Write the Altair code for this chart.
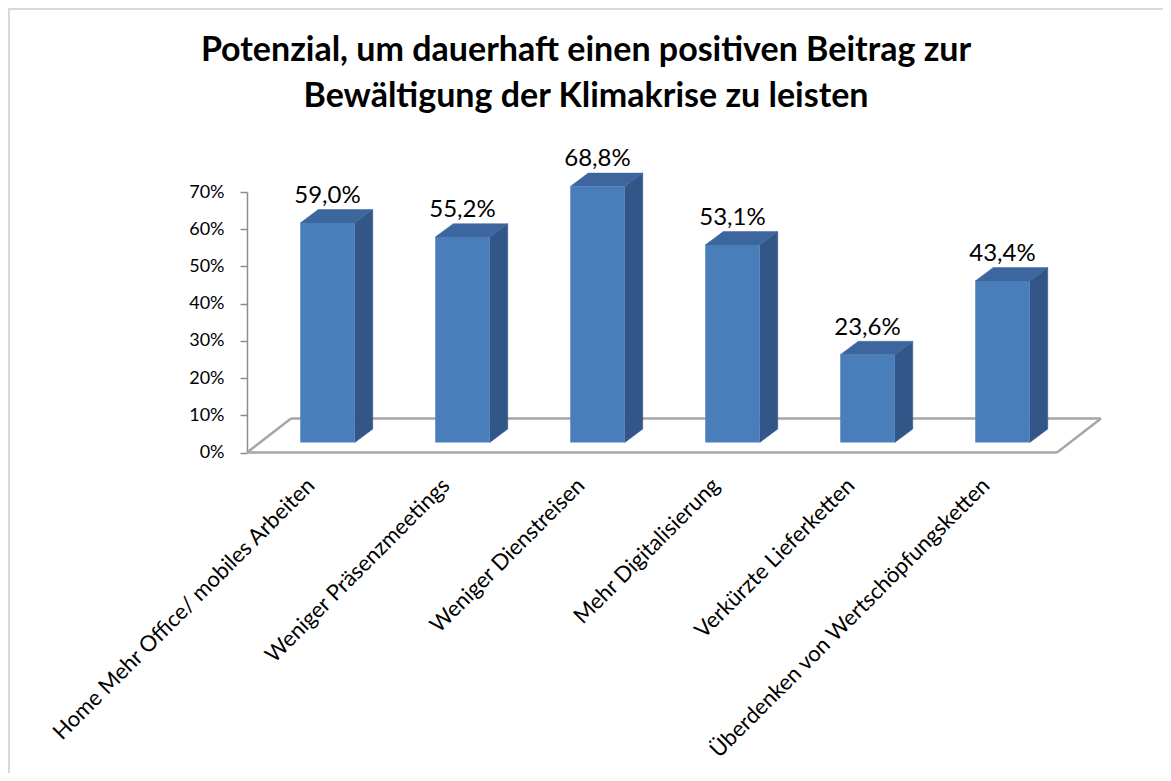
import altair as alt
import pandas as pd

# ---- data ----
categories = [
    "Home Mehr Office/ mobiles Arbeiten",
    "Weniger Präsenzmeetings",
    "Weniger Dienstreisen",
    "Mehr Digitalisierung",
    "Verkürzte Lieferketten",
    "Überdenken von Wertschöpfungsketten",
]
values = [59.0, 55.2, 68.8, 53.1, 23.6, 43.4]
y_ticks = [0, 10, 20, 30, 40, 50, 60, 70]
title_lines = [
    "Potenzial, um dauerhaft einen positiven Beitrag zur",
    "Bewältigung der Klimakrise zu leisten",
]

# ---- style constants (pixels) ----
W, H = 810, 260.5            # plot area
N = len(categories)
PX_X = W / N                 # px per category step
PX_Y = H / 70.0              # px per percent
HALF_W = 27.25 / PX_X        # half bar width, in steps
DEPTH_X = 18 / PX_X          # bar depth (side face), in steps
DEPTH_Y = 13.4 / PX_Y        # bar depth (side face), in percent
SHIFT_X = 13 / PX_X          # bars sit a bit behind the floor front edge
SHIFT_Y = 10 / PX_Y
FLOOR_DX, FLOOR_DY = 44, -34

FRONT = "#4a7ebb"
SIDE = "#325688"
TOP = "#3c669d"
GRID = "#a6a6a6"
FONT = "Lato"

# ---- derived tables ----
centers = [i + 0.5 for i in range(N)]
bars = pd.DataFrame({
    "cat": categories,
    "v": values,
    "c": centers,
})
bars["fx"] = bars["c"] + SHIFT_X
bars["x0"] = bars["fx"] - HALF_W
bars["x1"] = bars["fx"] + HALF_W
bars["base"] = SHIFT_Y
bars["top"] = bars["v"] + SHIFT_Y
bars["label"] = [f"{v:.1f}".replace(".", ",") + "%" for v in values]

# polygons (corner order) for side and top faces
side_rows, top_rows = [], []
for cat, v, c in zip(categories, values, centers):
    x0, x1 = c + SHIFT_X - HALF_W, c + SHIFT_X + HALF_W
    b, t = SHIFT_Y, v + SHIFT_Y
    for k, (px, py) in enumerate([(x1, b), (x1 + DEPTH_X, b + DEPTH_Y),
                                   (x1 + DEPTH_X, t + DEPTH_Y), (x1, t), (x1, b)]):
        side_rows.append({"cat": cat, "k": k, "px": px, "py": py})
    for k, (px, py) in enumerate([(x0, t), (x1, t), (x1 + DEPTH_X, t + DEPTH_Y),
                                   (x0 + DEPTH_X, t + DEPTH_Y), (x0, t)]):
        top_rows.append({"cat": cat, "k": k, "px": px, "py": py})
side = pd.DataFrame(side_rows)
top = pd.DataFrame(top_rows)

floor = pd.DataFrame({"x0": [0.0], "x1": [float(N)], "z": [0.0]})

xscale = alt.Scale(domain=[0, N], nice=False, zero=False)
yscale = alt.Scale(domain=[0, 70], nice=False)

label_array = "[" + ",".join("'" + c + "'" for c in categories) + "]"

x_axis = alt.Axis(
    values=centers,
    labelExpr=label_array + "[floor(datum.value)]",
    labelAngle=-45, labelAlign="right", labelBaseline="middle",
    labelFont=FONT, labelFontSize=22, labelColor="#000000",
    labelPadding=29, labelOffset=-4, labelLimit=600,
    domain=False, ticks=False, grid=False, title=None, labelOverlap=False,
    labelBound=False, labelFlush=False,
)
y_axis = alt.Axis(
    values=y_ticks, labelExpr="datum.value + '%'",
    labelFont=FONT, labelFontSize=18, labelColor="#000000", labelPadding=16,
    labelOverlap=False,
    domainColor="#8c8c8c", domainWidth=1.5, tickColor="#8c8c8c", tickWidth=1.5,
    tickSize=7, grid=False, title=None,
)


def X(f):
    return alt.X(f, scale=xscale, axis=x_axis)


def Y(f):
    return alt.Y(f, scale=yscale, axis=y_axis, stack=None)


base_floor = alt.Chart(floor)
floor_front = base_floor.mark_rule(color=GRID, strokeWidth=2.5).encode(
    x=X("x0:Q"), x2="x1:Q", y=Y("z:Q"),
)
floor_back = base_floor.mark_rule(
    color=GRID, strokeWidth=2.5, xOffset=FLOOR_DX, x2Offset=FLOOR_DX, yOffset=FLOOR_DY
).encode(x=X("x0:Q"), x2="x1:Q", y=Y("z:Q"))
floor_left = base_floor.mark_rule(
    color=GRID, strokeWidth=2.5, x2Offset=FLOOR_DX, y2Offset=FLOOR_DY
).encode(x=X("x0:Q"), x2="x0:Q", y=Y("z:Q"), y2="z:Q")
floor_right = base_floor.mark_rule(
    color=GRID, strokeWidth=2.5, x2Offset=FLOOR_DX, y2Offset=FLOOR_DY
).encode(x=X("x1:Q"), x2="x1:Q", y=Y("z:Q"), y2="z:Q")

side_face = alt.Chart(side).mark_line(
    filled=True, fill=SIDE, stroke=SIDE, strokeWidth=0.5, interpolate="linear"
).encode(
    x=X("px:Q"), y=Y("py:Q"), detail="cat:N", order="k:Q",
)
top_face = alt.Chart(top).mark_line(
    filled=True, fill=TOP, stroke=TOP, strokeWidth=0.5, interpolate="linear"
).encode(
    x=X("px:Q"), y=Y("py:Q"), detail="cat:N", order="k:Q",
)
front_face = alt.Chart(bars).mark_rect(color=FRONT).encode(
    x=X("x0:Q"), x2="x1:Q", y=Y("base:Q"), y2="top:Q",
)
labels = alt.Chart(bars).mark_text(
    font=FONT, fontSize=24, color="#000000", baseline="alphabetic", dy=-20,
).encode(
    x=X("fx:Q"), y=Y("top:Q"), text="label:N",
)

# title drawn as text (chart chrome), centred over the chart area
title1 = alt.Chart(floor).mark_text(
    text=title_lines[0], font=FONT, fontSize=34, fontWeight="bold", color="#000000",
    align="center", baseline="alphabetic",
).encode(x=alt.value(339), y=alt.value(-131))
title2 = alt.Chart(floor).mark_text(
    text=title_lines[1], font=FONT, fontSize=34, fontWeight="bold", color="#000000",
    align="center", baseline="alphabetic",
).encode(x=alt.value(339), y=alt.value(-85))

# light chart-area border (decoration; right and bottom edges fall outside the drawing)
border = alt.Chart(floor).mark_rect(
    fill=None, stroke="#d9d9d9", strokeWidth=2
).encode(
    x=alt.value(-238), x2=alt.value(960), y=alt.value(-183), y2=alt.value(700),
)

chart = alt.layer(
    border, floor_back, floor_left, floor_right, floor_front,
    side_face, top_face, front_face, labels, title1, title2,
).properties(
    width=W, height=H,
    autosize=alt.AutoSizeParams(type="none"),
    padding={"left": 239, "top": 184, "right": 106, "bottom": 320},
).configure_view(stroke=None)

chart.save("out.html", embed_options={"renderer": "svg", "actions": False})
